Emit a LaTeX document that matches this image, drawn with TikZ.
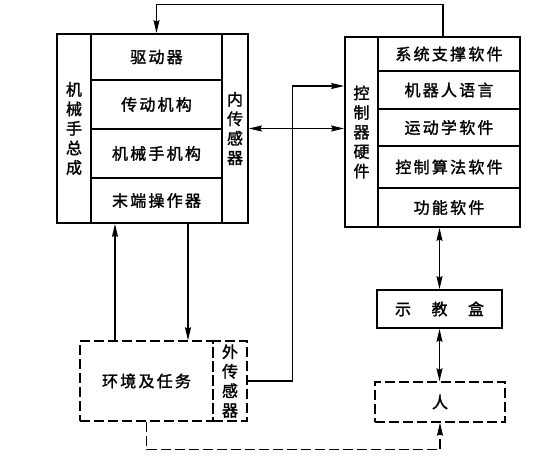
\documentclass[tikz,border=0pt]{standalone}
\usepackage{fontspec}
\newfontfamily\cjk{Noto Sans CJK SC}[LetterSpace=14,FakeBold=1.6]
\usetikzlibrary{arrows.meta}

\tikzset{
  cell/.style={draw, line width=1.8pt, inner sep=0pt, align=center,
    font=\cjk\fontsize{16}{19.5}\selectfont},
  dashcell/.style={cell, line width=1.4pt, dash pattern=on 10pt off 4pt},
  arr/.style={line width=1.2pt, -{Stealth[length=13pt,width=6pt,inset=1.5pt]}},
  biarr/.style={line width=1.2pt, {Stealth[length=13pt,width=6pt,inset=1.5pt]}-{Stealth[length=13pt,width=6pt,inset=1.5pt]}},
  dasharr/.style={arr, dash pattern=on 10pt off 4pt},
}

\begin{document}
\begin{tikzpicture}[x=1pt,y=1pt,yscale=-1]
    \useasboundingbox (0,0) rectangle (554,474);

    % Manipulator block
    \node (ltotal) [cell, minimum width=34pt, minimum height=189pt] at (74,128.5) {机\\械\\手\\总\\成};
    \node (drive) [cell, minimum width=131pt, minimum height=46pt] at (156.5,57) {驱动器};
    \node (trans) [cell, minimum width=131pt, minimum height=49pt] at (156.5,104.5) {传动机构};
    \node (mech) [cell, minimum width=131pt, minimum height=49pt] at (156.5,153.5) {机械手机构};
    \node (endeff) [cell, minimum width=131pt, minimum height=45pt] at (156.5,200.5) {末端操作器};
    \node (insensor) [cell, minimum width=26pt, minimum height=189pt] at (235,128.5) {内\\传\\感\\器};

    % Controller block
    \node (hw) [cell, minimum width=33pt, minimum height=190pt] at (361.5,132) {控\\制\\器\\硬\\件};
    \node (sys) [cell, minimum width=142pt, minimum height=34pt] at (449,54) {系统支撑软件};
    \node (lang) [cell, minimum width=142pt, minimum height=38pt] at (449,90) {机器人语言};
    \node (kin) [cell, minimum width=142pt, minimum height=37pt] at (449,127.5) {运动学软件};
    \node (alg) [cell, minimum width=142pt, minimum height=42pt] at (449,167) {控制算法软件};
    \node (func) [cell, minimum width=142pt, minimum height=39pt] at (449,207.5) {功能软件};

    % Teach box and operator
    \node (teach) [cell, minimum width=125pt, minimum height=38pt] at (439.5,309) {示　教　盒};
    \node (person) [dashcell, minimum width=130pt, minimum height=40pt] at (440,402) {人};

    % Environment
    \node (env) [dashcell, minimum width=133pt, minimum height=80pt] at (146.5,381) {环境及任务};
    \node (ext) [dashcell, minimum width=34pt, minimum height=80pt] at (230,381) {外\\传\\感\\器};

    % Connectors
    \draw [arr] ([xshift=-6pt]sys.north) -- ++(0,-32) -| (drive.north);
    \draw [biarr] (insensor.east) -- (insensor.east -| hw.west);
    \draw [arr] (ext.east) -- ++(45,0) |- ([yshift=-46pt]hw.west);
    \draw [arr] ([xshift=-31.5pt]env.north) coordinate (up) -- (up |- endeff.south);
    \draw [arr] ([xshift=31.5pt]endeff.south) coordinate (dn) -- (dn |- env.north);
    \draw [biarr] (teach.north) -- (teach.north |- func.south);
    \draw [biarr] (teach.south) -- (teach.south |- person.north);
    \draw [dasharr] (env.south) -- ++(0,28) -| (person.south);

\end{tikzpicture}
\end{document}
